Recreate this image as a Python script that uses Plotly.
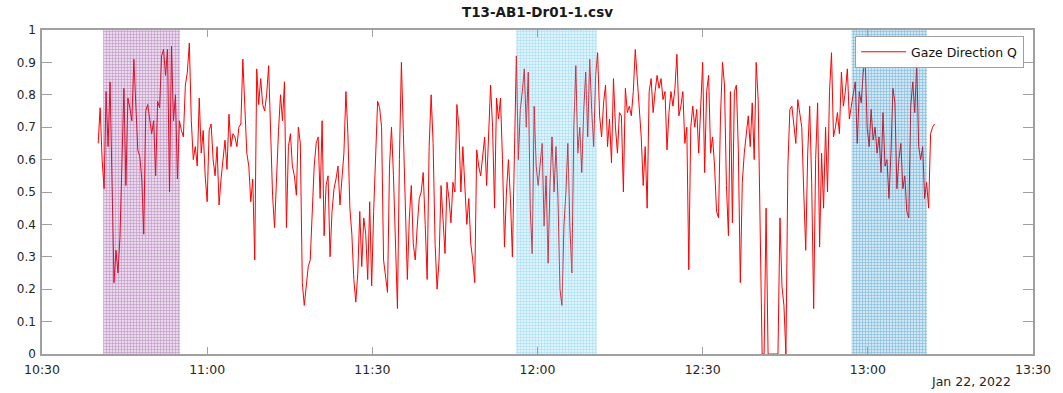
import pandas as pd
import plotly.graph_objects as go

# ---------------- data ----------------
start_time = "2022-01-22 10:40:12"
sample_step = "21600ms"

gaze_q = [
    0.65, 0.76, 0.60, 0.51, 0.81, 0.64, 0.84, 0.54, 0.22, 0.32,
    0.25, 0.36, 0.60, 0.82, 0.52, 0.79, 0.76, 0.72, 0.91, 0.79,
    0.63, 0.61, 0.54, 0.37, 0.75, 0.77, 0.73, 0.68, 0.72, 0.55,
    0.78, 0.76, 0.92, 0.94, 0.86, 0.94, 0.50, 0.95, 0.72, 0.80,
    0.54, 0.72, 0.69, 0.67, 0.83, 0.87, 0.96, 0.72, 0.60, 0.64,
    0.58, 0.79, 0.62, 0.69, 0.55, 0.47, 0.69, 0.71, 0.60, 0.55,
    0.64, 0.46, 0.54, 0.60, 0.66, 0.57, 0.74, 0.64, 0.68, 0.67,
    0.64, 0.70, 0.71, 0.91, 0.77, 0.62, 0.58, 0.47, 0.54, 0.29,
    0.88, 0.77, 0.85, 0.77, 0.75, 0.80, 0.89, 0.72, 0.49, 0.39,
    0.55, 0.69, 0.80, 0.72, 0.84, 0.39, 0.64, 0.68, 0.58, 0.55,
    0.49, 0.70, 0.65, 0.22, 0.15, 0.21, 0.27, 0.29, 0.42, 0.58,
    0.65, 0.67, 0.48, 0.72, 0.365, 0.52, 0.55, 0.30, 0.44, 0.51,
    0.54, 0.58, 0.46, 0.54, 0.62, 0.81, 0.68, 0.45, 0.37, 0.23,
    0.16, 0.25, 0.44, 0.27, 0.42, 0.37, 0.23, 0.47, 0.21, 0.44,
    0.59, 0.78, 0.76, 0.70, 0.29, 0.23, 0.19, 0.58, 0.70, 0.55,
    0.37, 0.14, 0.60, 0.90, 0.68, 0.48, 0.23, 0.42, 0.52, 0.34,
    0.29, 0.395, 0.48, 0.50, 0.56, 0.40, 0.23, 0.64, 0.80, 0.65,
    0.34, 0.20, 0.29, 0.52, 0.40, 0.31, 0.53, 0.48, 0.405, 0.53,
    0.50, 0.77, 0.70, 0.50, 0.64, 0.53, 0.40, 0.48, 0.34, 0.29,
    0.22, 0.63, 0.58, 0.55, 0.62, 0.67, 0.52, 0.66, 0.83, 0.70,
    0.45, 0.79, 0.725, 0.79, 0.60, 0.33, 0.50, 0.60, 0.48, 0.30,
    0.60, 0.92, 0.60, 0.755, 0.81, 0.88, 0.70, 0.87, 0.45, 0.31,
    0.765, 0.58, 0.52, 0.60, 0.65, 0.395, 0.55, 0.28, 0.53, 0.67,
    0.50, 0.64, 0.48, 0.20, 0.15, 0.395, 0.50, 0.65, 0.395, 0.25,
    0.70, 0.89, 0.62, 0.70, 0.56, 0.755, 0.87, 0.67, 0.91, 0.755,
    0.64, 0.86, 0.93, 0.735, 0.67, 0.775, 0.83, 0.64, 0.725, 0.59,
    0.85, 0.70, 0.62, 0.745, 0.735, 0.50, 0.82, 0.745, 0.765, 0.735,
    0.81, 0.94, 0.85, 0.755, 0.67, 0.52, 0.64, 0.45, 0.81, 0.85,
    0.745, 0.81, 0.86, 0.82, 0.85, 0.785, 0.81, 0.63, 0.745, 0.81,
    0.765, 0.82, 0.925, 0.735, 0.765, 0.81, 0.65, 0.70, 0.26, 0.70,
    0.765, 0.70, 0.755, 0.62, 0.775, 0.90, 0.56, 0.81, 0.86, 0.62,
    0.67, 0.58, 0.44, 0.42, 0.735, 0.90, 0.83, 0.52, 0.365, 0.81,
    0.405, 0.81, 0.83, 0.63, 0.22, 0.53, 0.62, 0.67, 0.735, 0.64,
    0.775, 0.60, 0.90, 0.785, 0.45, 0.0, 0.0, 0.45, 0.0, 0.0,
    0.0, 0.0, 0.0, 0.0, 0.42, 0.21, 0.15, 0.0, 0.58, 0.755,
    0.765, 0.70, 0.65, 0.785, 0.745, 0.70, 0.50, 0.32, 0.62, 0.765,
    0.53, 0.14, 0.60, 0.775, 0.33, 0.62, 0.45, 0.70, 0.50, 0.81,
    0.93, 0.67, 0.70, 0.745, 0.68, 0.87, 0.765, 0.81, 0.88, 0.725,
    0.765, 0.81, 0.84, 0.65, 0.81, 0.775, 0.87, 0.91, 0.70, 0.64,
    0.755, 0.66, 0.70, 0.62, 0.67, 0.56, 0.745, 0.58, 0.60, 0.48,
    0.62, 0.82, 0.775, 0.51, 0.60, 0.65, 0.51, 0.55, 0.44, 0.42,
    0.765, 0.84, 0.745, 0.90, 0.64, 0.60, 0.64, 0.48, 0.53, 0.45,
    0.68, 0.70, 0.71,
]

# highlighted intervals and their colours
band_starts = ["2022-01-22 10:41:06", "2022-01-22 11:56:06", "2022-01-22 12:57:03"]
band_ends = ["2022-01-22 10:55:05", "2022-01-22 12:10:48", "2022-01-22 13:10:44"]
band_colors = ["126,47,142", "77,190,238", "0,114,189"]

x_start = "2022-01-22 10:30"
x_end = "2022-01-22 13:30"
x_ticks = ["2022-01-22 10:30", "2022-01-22 11:00", "2022-01-22 11:30", "2022-01-22 12:00",
           "2022-01-22 12:30", "2022-01-22 13:00", "2022-01-22 13:30"]
series_name = "Gaze Direction Q"
title_text = "T13-AB1-Dr01-1.csv"
date_label = "Jan 22, 2022"

# ---------------- figure ----------------
times = pd.date_range(start=start_time, periods=len(gaze_q), freq=sample_step)

fig = go.Figure()
fig.add_trace(go.Scatter(
    x=times, y=gaze_q, mode="lines", name=series_name,
    line=dict(color="#ff0000", width=1),
))

for s, e, c in zip(band_starts, band_ends, band_colors):
    fig.add_trace(go.Scatter(
        x=[s, e, e, s, s], y=[0, 0, 1, 1, 0], mode="lines",
        fill="toself", line=dict(width=0), showlegend=False, hoverinfo="skip",
        fillcolor=f"rgba({c},0.18)",
        fillpattern=dict(shape="+", size=3, solidity=0.35, fillmode="overlay",
                         fgcolor=f"rgb({c})", fgopacity=0.4),
    ))

axis_col = "#a0a0a0"
base_font = "DejaVu Sans, Verdana, sans-serif"
fig.update_layout(
    width=1063, height=393,
    margin=dict(l=42, r=21, t=30, b=39),
    paper_bgcolor="white", plot_bgcolor="white",
    font=dict(family=base_font, size=12, color="#262626"),
    title=dict(text=f"<b>{title_text}</b>", x=0.5, xref="paper", xanchor="center",
               y=0.97, yref="container", yanchor="middle",
               font=dict(family=base_font, size=13.5, color="#1a1a1a")),
    showlegend=True,
    legend=dict(x=0.991, xanchor="right", y=0.981, yanchor="top",
                bgcolor="white", bordercolor=axis_col, borderwidth=1,
                font=dict(family=base_font, size=12.5, color="#111111"),
                itemwidth=45),
    xaxis=dict(
        range=[x_start, x_end], tickvals=x_ticks, tickformat="%H:%M",
        showgrid=False, zeroline=False, showline=True, linecolor=axis_col, linewidth=1.5,
        mirror="ticks", ticks="inside", ticklen=7, tickcolor=axis_col, tickwidth=1,
        tickfont=dict(size=12.5), ticklabelstandoff=3, ticklabeloverflow="allow",
    ),
    yaxis=dict(
        range=[0, 1], dtick=0.1, tick0=0,
        showgrid=False, zeroline=False, showline=True, linecolor=axis_col, linewidth=1.5,
        mirror="ticks", ticks="inside", ticklen=10, tickcolor=axis_col, tickwidth=1,
        tickfont=dict(size=12), ticklabelstandoff=2,
    ),
    annotations=[dict(text=date_label, xref="paper", yref="paper", x=0.98, y=-0.085,
                      xanchor="right", yanchor="middle", showarrow=False,
                      font=dict(family=base_font, size=12.5, color="#262626"))],
)

fig.write_html("out.html")
